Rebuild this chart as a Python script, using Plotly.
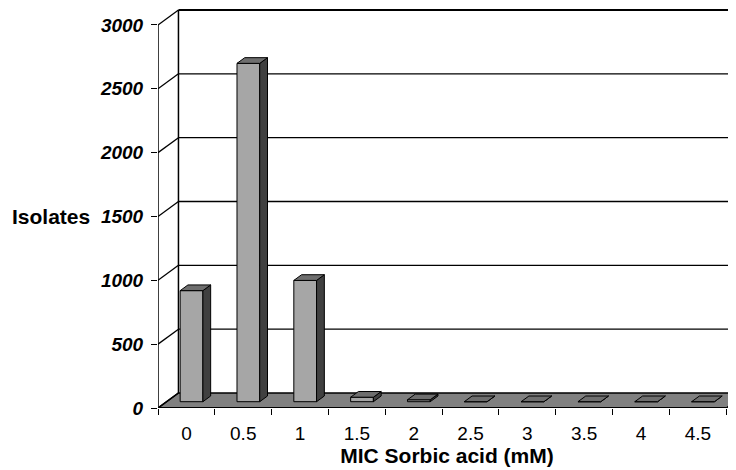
import plotly.graph_objects as go

# ---- data ----
categories = ["0", "0.5", "1", "1.5", "2", "2.5", "3", "3.5", "4", "4.5"]
isolates = [870, 2650, 950, 35, 15, 0, 0, 0, 0, 0]
y_ticks = [0, 500, 1000, 1500, 2000, 2500, 3000]

# ---- pseudo-3D geometry (axis units) ----
DX = 0.36      # depth shift along x (category units)
DY = 117.5     # depth shift along y (value units)
FD = 0.42      # depth position of bar front face (fraction of full depth)
BD = 0.38      # bar depth (fraction of full depth)
BW = 0.40      # bar width
XOFF = 0.09    # front face centre offset from category position

FRONT = "#A6A6A6"
SIDE = "#404040"
TOP = "#6E6E6E"
FLOOR = "#808080"

idx = list(range(len(categories)))
x_lo, x_hi = -0.5, len(categories) - 0.5
y_top = max(y_ticks)

fig = go.Figure()

# front faces of bars
fig.add_trace(go.Bar(
    x=idx, y=isolates, base=FD * DY, width=BW, offset=XOFF - BW / 2,
    marker=dict(color=FRONT, line=dict(color="black", width=1)),
    hoverinfo="skip", showlegend=False,
))

# side and top faces, computed from the values
sx, sy, tx, ty = [], [], [], []
for i, v in zip(idx, isolates):
    x0 = i + XOFF - BW / 2
    x1 = i + XOFF + BW / 2
    y0 = FD * DY
    y1 = y0 + v
    ddx, ddy = BD * DX, BD * DY
    sx += [x1, x1 + ddx, x1 + ddx, x1, x1, None]
    sy += [y0, y0 + ddy, y1 + ddy, y1, y0, None]
    tx += [x0, x1, x1 + ddx, x0 + ddx, x0, None]
    ty += [y1, y1, y1 + ddy, y1 + ddy, y1, None]

fig.add_trace(go.Scatter(x=sx, y=sy, mode="lines", fill="toself", fillcolor=SIDE,
                         line=dict(color="black", width=1), hoverinfo="skip", showlegend=False))
fig.add_trace(go.Scatter(x=tx, y=ty, mode="lines", fill="toself", fillcolor=TOP,
                         line=dict(color="black", width=1), hoverinfo="skip", showlegend=False))

shapes = []
# floor
shapes.append(dict(type="path", xref="x", yref="y", layer="below",
                   path=f"M {x_lo},0 L {x_hi},0 L {x_hi+DX},{DY} L {x_lo+DX},{DY} Z",
                   fillcolor=FLOOR, line=dict(color="black", width=1.5)))
# front floor edge (thicker)
shapes.append(dict(type="line", xref="x", yref="y", layer="below",
                   x0=x_lo, x1=x_hi, y0=0, y1=0, line=dict(color="black", width=2)))
# back wall gridlines and side wall diagonals
for v in y_ticks:
    if v > 0:
        shapes.append(dict(type="line", xref="x", yref="y", layer="below",
                           x0=x_lo + DX, x1=x_hi + DX + 1, y0=v + DY, y1=v + DY,
                           line=dict(color="black", width=2 if v == y_top else 1.3)))
    shapes.append(dict(type="line", xref="x", yref="y", layer="below",
                       x0=x_lo, x1=x_lo + DX, y0=v, y1=v + DY,
                       line=dict(color="black", width=1.3)))
# back wall left edge
shapes.append(dict(type="line", xref="x", yref="y", layer="below",
                   x0=x_lo + DX, x1=x_lo + DX, y0=DY, y1=y_top + DY,
                   line=dict(color="black", width=1.5)))
# front value axis line
shapes.append(dict(type="line", xref="x", yref="y", layer="below",
                   x0=x_lo, x1=x_lo, y0=0, y1=y_top,
                   line=dict(color="black", width=1.5)))

# page puts the figure at (8, 8); figure is sized to end at the window edge
W, H = 728, 462
ML, MR, MT, MB = 150, 0, 0, 62
px_per_cat = 56.83
px_per_val = 0.12767
x_range = [x_lo, x_lo + (W - ML - MR) / px_per_cat]
y_range = [0, (H - MT - MB) / px_per_val]

fig.update_layout(
    width=W, height=H,
    margin=dict(l=ML, r=MR, t=MT, b=MB),
    paper_bgcolor="white", plot_bgcolor="white",
    shapes=shapes,
    font=dict(family="Liberation Sans, Arial, sans-serif", color="black"),
    xaxis=dict(
        range=x_range, showgrid=False, zeroline=False, showline=False,
        tickmode="array", tickvals=idx, ticktext=categories,
        ticks="outside", ticklen=8, tickcolor="rgba(0,0,0,0)",
        tickfont=dict(size=19, color="black"),
        minor=dict(tickmode="array", tickvals=[i + 0.5 for i in [-1] + idx],
                   ticks="outside", ticklen=6, tickwidth=1.3, tickcolor="black"),
        title=dict(text="MIC Sorbic acid (mM)", standoff=5,
                   font=dict(size=21, weight="bold", color="black")),
    ),
    yaxis=dict(
        range=y_range, showgrid=False, zeroline=False, showline=False,
        tickmode="array", tickvals=y_ticks,
        ticks="outside", ticklen=6, tickwidth=1.3, tickcolor="black",
        ticklabelstandoff=4,
        tickfont=dict(size=19, weight="bold", style="italic", color="black"),
    ),
    annotations=[dict(text="<b>Isolates</b>", xref="paper", yref="y",
                      x=-(ML + 8 - 92) / (W - ML - MR), y=1500, xanchor="right", yanchor="middle",
                      showarrow=False, font=dict(size=21, color="black"))],
)

fig.write_html("out.html")
